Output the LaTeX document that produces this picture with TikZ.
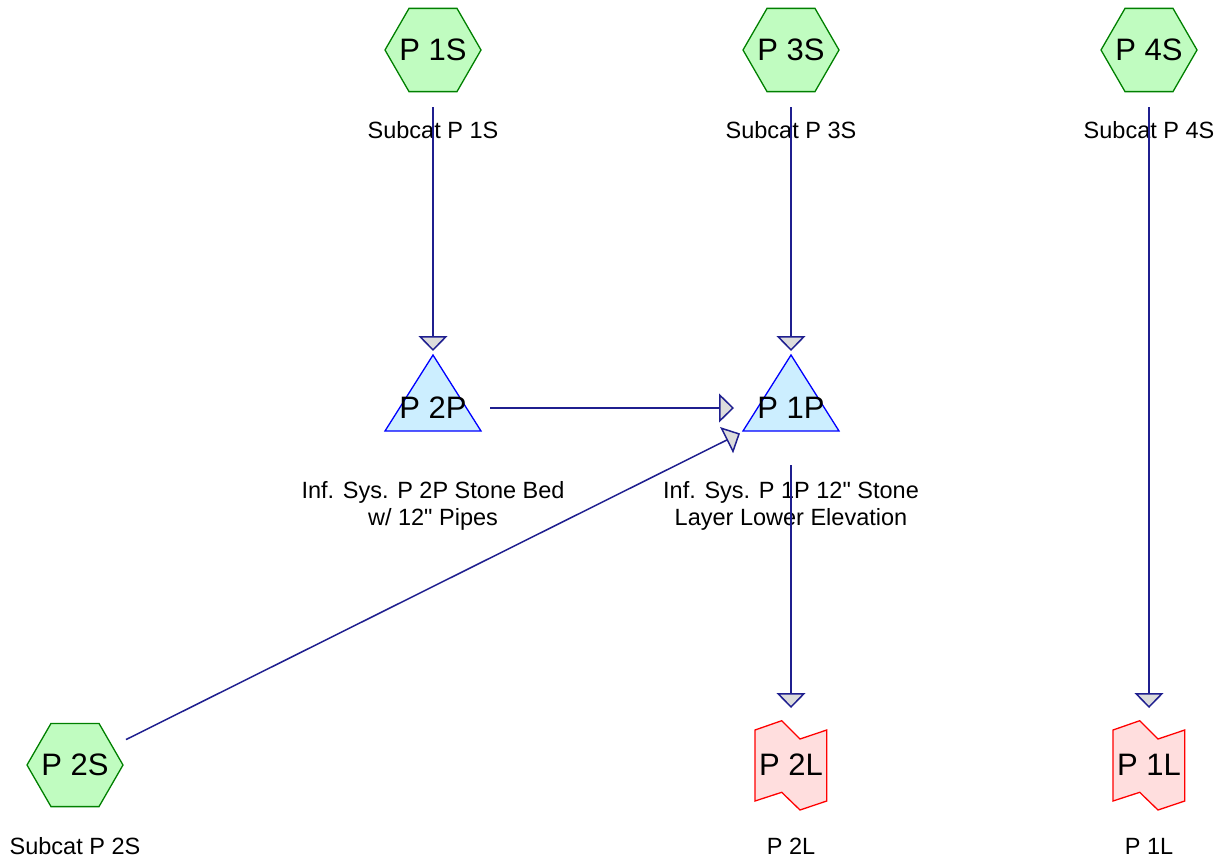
\documentclass[tikz,border=0pt]{standalone}
\usepackage{fontspec}
\setmainfont{Liberation Sans}
\usetikzlibrary{positioning,arrows.meta}

\definecolor{subfill}{HTML}{C0FCC0}
\definecolor{subdraw}{HTML}{008000}
\definecolor{pondfill}{HTML}{CCEEFF}
\definecolor{ponddraw}{HTML}{0000FF}
\definecolor{linkfill}{HTML}{FFDEDE}
\definecolor{linkdraw}{HTML}{FF0000}
\definecolor{routing}{HTML}{1F1F8F}
\definecolor{tipfill}{HTML}{DCDCDC}

% outlines of the subcatchment, pond and link symbols, around a centre point
\newcommand{\subshape}[1]{\draw[subcat] (#1) ++(-48,0) -- ++(24,-41.6) -- ++(48,0) -- ++(24,41.6) -- ++(-24,41.6) -- ++(-48,0) -- cycle;}
\newcommand{\pondshape}[1]{\draw[pond] (#1) ++(-48,23) -- ++(96,0) -- ++(-48,-76) -- cycle;}
\newcommand{\linkshape}[1]{\draw[reach] (#1) ++(-36,-35) -- ++(26.7,-9.3) -- ++(18.3,18.3) -- ++(26.7,-9) -- ++(0,71) -- ++(-26.7,9) -- ++(-18.3,-17.7) -- ++(-26.7,8.7) -- cycle;}

\begin{document}
\begin{tikzpicture}[x=1pt, y=-1pt,
				subcat/.style={draw=subdraw, fill=subfill, line width=1.3pt},
				pond/.style={draw=ponddraw, fill=pondfill, line width=1.3pt},
				reach/.style={draw=linkdraw, fill=linkfill, line width=1.3pt},
				nodetext/.style={inner sep=0pt, font=\fontsize{31}{36}\selectfont},
				caption/.style={inner sep=0pt, align=center, font=\fontsize{23.5}{27}\selectfont},
				flow/.style={draw=routing, line width=1.5pt, -{Triangle[length=15pt, width=29pt, fill=tipfill]}, shorten <=57pt, shorten >=57pt}
			]
			\useasboundingbox (0,0) rectangle (1225,867);
			% symbols
			\subshape{433,50}
			\subshape{791,50}
			\subshape{1149,50}
			\subshape{75,765}
			\pondshape{433,408}
			\pondshape{791,408}
			\linkshape{791,765}
			\linkshape{1149,765}
			% names
			\node[nodetext] (p1s) at (433,50) {P 1S};
			\node[nodetext] (p3s) at (791,50) {P 3S};
			\node[nodetext] (p4s) at (1149,50) {P 4S};
			\node[nodetext] (p2s) at (75,765) {P 2S};
			\node[nodetext] (p2p) at (433,408) {P 2P};
			\node[nodetext] (p1p) at (791,408) {P 1P};
			\node[nodetext] (p2l) at (791,765) {P 2L};
			\node[nodetext] (p1l) at (1149,765) {P 1L};
			% captions
			\node[caption] (p1scap) [below=60pt of p1s] {Subcat P 1S};
			\node[caption] (p3scap) [below=60pt of p3s] {Subcat P 3S};
			\node[caption] (p4scap) [below=60pt of p4s] {Subcat P 4S};
			\node[caption] (p2scap) [below=61pt of p2s] {Subcat P 2S};
			\node[caption] (p2pcap) [below=62pt of p2p] {Inf. Sys. P 2P Stone Bed\\w/ 12\textquotedbl{} Pipes};
			\node[caption] (p1pcap) [below=62pt of p1p] {Inf. Sys. P 1P 12\textquotedbl{} Stone\\Layer Lower Elevation};
			\node[caption] (p2lcap) [below=62pt of p2l] {P 2L};
			\node[caption] (p1lcap) [below=62pt of p1l] {P 1L};
			% routing
			\draw[flow] (p1s.center) -- (p2p.center);
			\draw[flow] (p3s.center) -- (p1p.center);
			\draw[flow] (p2p.center) -- (p1p.center);
			\draw[flow] (p2s.center) -- (p1p.center);
			\draw[flow] (p1p.center) -- (p2l.center);
			\draw[flow] (p4s.center) -- (p1l.center);
			\end{tikzpicture}
\end{document}
